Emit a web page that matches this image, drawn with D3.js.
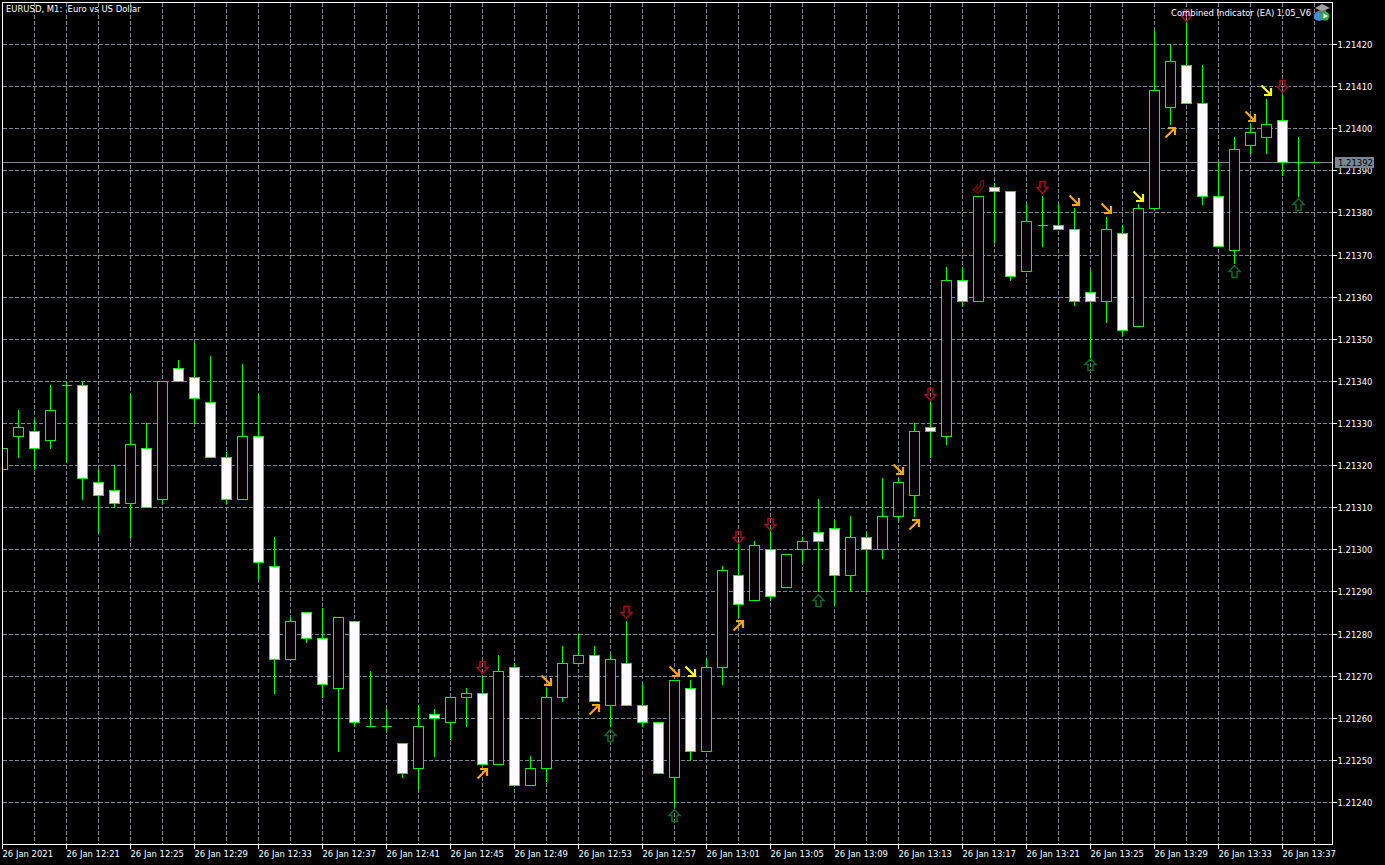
<!DOCTYPE html>
<html><head><meta charset="utf-8">
<style>html,body{margin:0;padding:0;background:#000;overflow:hidden}svg{display:block}
text{font-family:"DejaVu Sans Condensed","DejaVu Sans",sans-serif;font-stretch:condensed;font-size:9.4px;fill:#fff}</style>
<script src="https://cdn.jsdelivr.net/npm/d3@7/dist/d3.min.js"></script>
</head><body><svg id="c" width="1385" height="865"></svg>
<script>
const opens=[1.21319,1.21327,1.21328,1.21326,1.21339,1.21339,1.21316,1.21314,1.21311,1.21324,1.21312,1.21343,1.21341,1.21335,1.21322,1.21312,1.21327,1.21296,1.21274,1.21285,1.21279,1.21267,1.21283,1.21258,1.21258,1.21254,1.21248,1.21261,1.21259,1.21265,1.21266,1.21249,1.21272,1.21244,1.21248,1.21265,1.21273,1.21275,1.21263,1.21273,1.21263,1.21259,1.21246,1.21267,1.21252,1.21272,1.21294,1.21288,1.21300,1.21291,1.21300,1.21304,1.21305,1.21294,1.21303,1.21300,1.21308,1.21313,1.21329,1.21327,1.21364,1.21359,1.21386,1.21385,1.21366,1.21377,1.21377,1.21376,1.21361,1.21359,1.21375,1.21353,1.21381,1.21405,1.21415,1.21406,1.21384,1.21371,1.21396,1.21398,1.21402,1.21392,1.21392];
const highs=[1.21324,1.21333,1.21331,1.21339,1.21340,1.21340,1.21319,1.21320,1.21337,1.21330,1.21340,1.21345,1.21349,1.21346,1.21323,1.21344,1.21337,1.21303,1.21284,1.21285,1.21286,1.21284,1.21283,1.21271,1.21262,1.21254,1.21263,1.21262,1.21265,1.21267,1.21270,1.21275,1.21273,1.21251,1.21267,1.21277,1.21280,1.21277,1.21275,1.21283,1.21268,1.21259,1.21269,1.21269,1.21274,1.21296,1.21302,1.21302,1.21305,1.21299,1.21303,1.21312,1.21307,1.21308,1.21304,1.21317,1.21317,1.21330,1.21335,1.21367,1.21367,1.21384,1.21387,1.21385,1.21382,1.21384,1.21382,1.21381,1.21366,1.21379,1.21377,1.21382,1.21423,1.21420,1.21426,1.21415,1.21392,1.21398,1.21401,1.21407,1.21408,1.21398,1.21392];
const lows=[1.21319,1.21322,1.21319,1.21324,1.21321,1.21312,1.21304,1.21310,1.21303,1.21310,1.21311,1.21340,1.21330,1.21322,1.21311,1.21312,1.21293,1.21266,1.21274,1.21278,1.21265,1.21252,1.21258,1.21258,1.21257,1.21246,1.21243,1.21251,1.21255,1.21258,1.21249,1.21249,1.21244,1.21244,1.21245,1.21264,1.21273,1.21264,1.21258,1.21263,1.21258,1.21247,1.21239,1.21250,1.21252,1.21268,1.21284,1.21288,1.21288,1.21291,1.21297,1.21290,1.21287,1.21290,1.21290,1.21298,1.21307,1.21308,1.21322,1.21325,1.21358,1.21359,1.21373,1.21364,1.21366,1.21372,1.21376,1.21358,1.21345,1.21354,1.21351,1.21353,1.21381,1.21401,1.21406,1.21382,1.21372,1.21368,1.21394,1.21394,1.21389,1.21384,1.21392];
const closes=[1.21324,1.21329,1.21324,1.21333,1.21339,1.21317,1.21313,1.21311,1.21325,1.21310,1.21340,1.21340,1.21336,1.21322,1.21312,1.21327,1.21297,1.21274,1.21283,1.21279,1.21268,1.21284,1.21259,1.21258,1.21258,1.21247,1.21258,1.21260,1.21265,1.21266,1.21249,1.21271,1.21244,1.21248,1.21265,1.21273,1.21275,1.21264,1.21274,1.21263,1.21259,1.21247,1.21269,1.21252,1.21272,1.21295,1.21287,1.21301,1.21289,1.21299,1.21302,1.21302,1.21294,1.21303,1.21300,1.21308,1.21316,1.21328,1.21328,1.21364,1.21359,1.21384,1.21385,1.21365,1.21378,1.21377,1.21376,1.21359,1.21359,1.21376,1.21352,1.21381,1.21409,1.21416,1.21406,1.21384,1.21372,1.21395,1.21399,1.21401,1.21392,1.21392,1.21392];
const priceTicks=[1.21420,1.21410,1.21400,1.21390,1.21380,1.21370,1.21360,1.21350,1.21340,1.21330,1.21320,1.21310,1.21300,1.21290,1.21280,1.21270,1.21260,1.21250,1.21240];
const timeLabels=["26 Jan 2021","26 Jan 12:21","26 Jan 12:25","26 Jan 12:29","26 Jan 12:33","26 Jan 12:37","26 Jan 12:41","26 Jan 12:45","26 Jan 12:49","26 Jan 12:53","26 Jan 12:57","26 Jan 13:01","26 Jan 13:05","26 Jan 13:09","26 Jan 13:13","26 Jan 13:17","26 Jan 13:21","26 Jan 13:25","26 Jan 13:29","26 Jan 13:33","26 Jan 13:37"];
const currentPrice=1.21392;
const sigRedBars=[30,39,46,48,58,65,74,80];
const sigRedPrices=[1.21272,1.21285,1.21303,1.21306,1.21337,1.21386,1.21427,1.21410];
const sigGreenBars=[38,42,51,68,77,81];
const sigGreenPrices=[1.21256,1.21237,1.21288,1.21344,1.21366,1.21382];
const sigOrangeUpBars=[30,37,46,57,73];
const sigOrangeUpPrices=[1.21247,1.21262,1.21282,1.21306,1.21399];
const sigOrangeDownBars=[34,42,56,67,69,78];
const sigOrangeDownPrices=[1.21269,1.21271,1.21319,1.21383,1.21381,1.21403];
const sigYellowBars=[43,71,79];
const sigYellowPrices=[1.21271,1.21384,1.21409];
const sigCurlyBars=[61];
const sigCurlyPrices=[1.21386];

const GRID="#778899",GREEN="#00ff00",RED="#a80c26",DKGREEN="#0b6b28",ORANGE="#ffa500",YELLOW="#ffff00",DKRED="#6e0a12";
const svg=d3.select("#c");
const x=d3.scaleLinear().domain([0,opens.length-1]).range([2,1314]).interpolate(d3.interpolateRound);
const y=d3.scaleLinear().domain([1.21420,1.21240]).range([44,802]).interpolate(d3.interpolateRound);
const L=2,R=1332,T=2,B=844;
svg.append("defs").append("clipPath").attr("id","plot").append("rect").attr("x",L).attr("y",T).attr("width",R-L).attr("height",B-T);
const plot=svg.append("g").attr("clip-path","url(#plot)");
// grid
const gridG=plot.append("g").attr("stroke",GRID).attr("stroke-dasharray","4 2").attr("shape-rendering","crispEdges");
gridG.selectAll(".gv").data(d3.range(2,opens.length,2)).join("line").attr("class","gv").attr("x1",d=>x(d)+.5).attr("x2",d=>x(d)+.5).attr("y1",T+1).attr("y2",B);
gridG.selectAll(".gh").data(priceTicks).join("line").attr("class","gh").attr("x1",L+1).attr("x2",R).attr("y1",d=>y(d)+.5).attr("y2",d=>y(d)+.5);
// current price line
plot.append("line").attr("x1",L).attr("x2",R).attr("y1",y(currentPrice)+.5).attr("y2",y(currentPrice)+.5).attr("stroke",GRID).attr("shape-rendering","crispEdges");
// candles
const idx=d3.range(opens.length);
const cg=plot.append("g").attr("shape-rendering","crispEdges");
cg.selectAll(".wick").data(idx).join("line").attr("class","wick").attr("stroke",GREEN)
  .attr("x1",i=>x(i)+.5).attr("x2",i=>x(i)+.5).attr("y1",i=>y(highs[i])).attr("y2",i=>y(lows[i])+1);
cg.selectAll(".body").data(idx).join("path").attr("class","body")
  .attr("d",i=>{
    const a=y(Math.max(opens[i],closes[i]))+.5,b=y(Math.min(opens[i],closes[i]))+.5,l=x(i)-4.5;
    return `M${l},${a}H${l+10}V${b}H${l}Z`;
  })
  .attr("fill",i=>closes[i]<opens[i]?"#fff":"#000").attr("stroke",GREEN);
// signals
const shapes={
 down:"M-2.5,-6H2.5V0H5.5L0,6L-5.5,0H-2.5Z",
 up:"M-2.5,6H2.5V0H5.5L0,-6L-5.5,0H-2.5Z",
 upRight:"M-5,5L4,-4M-2.5,-4.5H4.5V2.5",
 downRight:"M-5,-5L4,4M-2.5,4.5H4.5V-2.5",
 curly:"M-5.5,2L-1.5,-1.5V2L2,-1.5V-5.5L5,-7V-1.5L-0.5,6Z"
};
function sig(bars,prices,shape,color,w){
  plot.append("g").selectAll("path").data(bars).join("path")
   .attr("transform",(b,i)=>`translate(${x(b)+.5},${y(prices[i])+.5})`)
   .attr("d",shapes[shape]).attr("fill","none").attr("stroke",color).attr("stroke-width",w);
}
sig(sigRedBars,sigRedPrices,"down",RED,1.5);
sig(sigGreenBars,sigGreenPrices,"up",DKGREEN,1.5);
sig(sigOrangeUpBars,sigOrangeUpPrices,"upRight",ORANGE,2.2);
sig(sigOrangeDownBars,sigOrangeDownPrices,"downRight",ORANGE,2.2);
sig(sigYellowBars,sigYellowPrices,"downRight",YELLOW,2.2);
sig(sigCurlyBars,sigCurlyPrices,"curly",DKRED,1.5);
// frame
svg.append("rect").attr("x",L+.5).attr("y",T+.5).attr("width",R-L).attr("height",B-T).attr("fill","none").attr("stroke","#fff").attr("shape-rendering","crispEdges");
// axes
const ay=svg.append("g").attr("transform",`translate(${R+.5},0)`).call(d3.axisRight(y).tickValues(priceTicks).tickSize(4).tickPadding(1).tickFormat(d3.format(".5f")));
const ax=svg.append("g").attr("transform",`translate(0,${B+.5})`).call(d3.axisBottom(x).tickValues(d3.range(0,opens.length,4).slice(0,timeLabels.length)).tickSize(4).tickPadding(2).tickFormat((d,i)=>timeLabels[i]));
[ay,ax].forEach(a=>{a.select(".domain").remove();a.attr("font-family",null).attr("font-size",null);a.selectAll("line").attr("stroke","#fff").attr("shape-rendering","crispEdges");a.selectAll("text").attr("fill","#fff");});
ax.selectAll("text").attr("text-anchor","start").attr("x",0);
// current price label
const cy=y(currentPrice);
svg.append("rect").attr("x",1335).attr("y",cy-5).attr("width",39).attr("height",11).attr("fill",GRID);
svg.append("text").attr("x",1338).attr("y",cy+.5).attr("dy","0.35em").style("fill","#000").text(d3.format(".5f")(currentPrice));
// texts
svg.append("text").attr("x",6).attr("y",9).attr("dy","0.35em").text("EURUSD, M1:  Euro vs US Dollar").style("white-space","pre");
svg.append("text").attr("x",1311).attr("y",13).attr("dy","0.35em").attr("text-anchor","end").text("Combined Indicator (EA) 1.05_V6");
// icon
const ic=svg.append("g").attr("transform","translate(1322,13)");
ic.append("circle").attr("cx",-3).attr("cy",3).attr("r",5).attr("fill","#3f8fd8");
ic.append("path").attr("d","M-7,-5L0,-9L8,-5L0,-1.5Z").attr("fill","#a0a0a0");
ic.append("path").attr("d","M-3,-3.5V0L0,1L4,0V-3.5L0,-2Z").attr("fill","#6e6e6e");
ic.append("circle").attr("cx",3).attr("cy",3).attr("r",4.5).attr("fill","#2fae3c");
ic.append("path").attr("d","M1.5,0.5L6,3L1.5,5.5Z").attr("fill","#fff");
</script></body></html>
